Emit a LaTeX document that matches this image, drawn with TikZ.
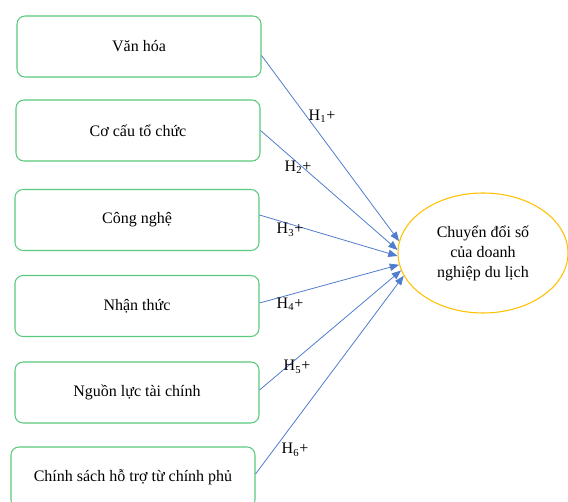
\documentclass[tikz,border=0pt]{standalone}
\usepackage{fontspec}
\setmainfont{Liberation Serif}
\usetikzlibrary{arrows.meta,shapes.geometric,calc}
\definecolor{boxgreen}{RGB}{90,200,125}
\definecolor{ellgold}{RGB}{255,192,0}
\definecolor{arrblue}{RGB}{80,125,205}
\begin{document}
\begin{tikzpicture}[x=0.75pt,y=-0.75pt,
  factor/.style={draw=boxgreen,line width=0.8pt,rounded corners=6pt,minimum width=183pt,minimum height=45.75pt,inner sep=0pt,font=\fontsize{12}{14}\selectfont},
  target/.style={draw=ellgold,line width=0.8pt,ellipse,minimum width=127.5pt,minimum height=90pt,inner sep=0pt,align=center,font=\fontsize{12}{15}\selectfont},
  hyp/.style={draw=arrblue,line width=0.6pt,-{Triangle[length=7pt,width=5.5pt]}},
  hlab/.style={font=\fontsize{12}{14}\selectfont,inner sep=0pt}]
\useasboundingbox (0,0) rectangle (568,502);
\node[factor] (b1) at (139,46.5) {Văn hóa};
\node[factor] (b2) at (138,130.5) {Cơ cấu tổ chức};
\node[factor] (b3) at (137,220) {Công nghệ};
\node[factor] (b4) at (137,306) {Nhận thức};
\node[factor] (b5) at (137,392.5) {Nguồn lực tài chính};
\node[factor] (b6) at (133,477.5) {Chính sách hỗ trợ từ chính phủ};
\node[target] (t) at (483,253) {Chuyển đổi số\\của doanh\\nghiệp du lịch};
\draw[hyp] ($(b1.east)+(0,9)$) -- (t.172.7);
\draw[hyp] (b2.east) -- (t.178);
\draw[hyp] ($(b3.east)+(0,-5)$) -- (t.182.7);
\draw[hyp] ($(b4.east)+(0,-3)$) -- (t.188.7);
\draw[hyp] ($(b5.east)+(0,-2.5)$) -- (t.192.6);
\draw[hyp] ($(b6.east)+(0,-3.5)$) -- (t.196.8);
\node[hlab] (h1) at (322,116) {H\textsubscript{1}+};
\node[hlab] (h2) at (298,167) {H\textsubscript{2}+};
\node[hlab] (h3) at (290,230) {H\textsubscript{3}+};
\node[hlab] (h4) at (290,304) {H\textsubscript{4}+};
\node[hlab] (h5) at (297,367) {H\textsubscript{5}+};
\node[hlab] (h6) at (295,450) {H\textsubscript{6}+};
\end{tikzpicture}
\end{document}
